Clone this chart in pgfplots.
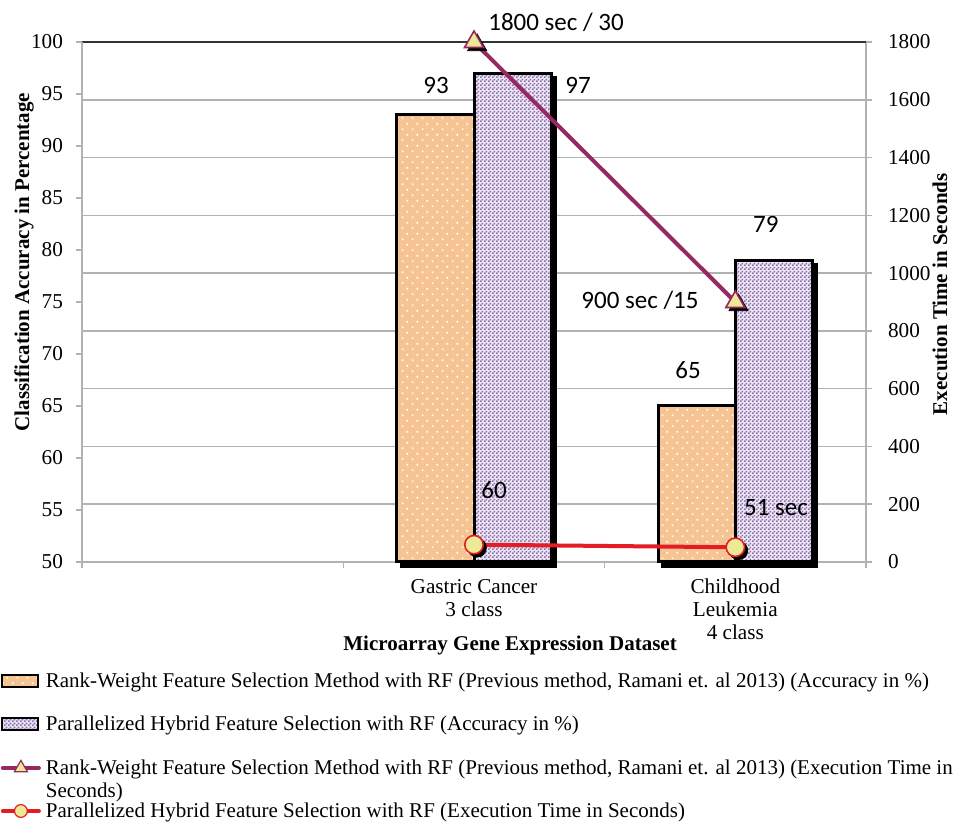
\documentclass[border=0pt]{standalone}
\usepackage{fontspec}
\setmainfont{Liberation Serif}
\newfontfamily\calibri{Carlito}
\usepackage{pgfplots}
\pgfplotsset{compat=1.18}
\usepackage{pgfplotstable}
\usetikzlibrary{patterns.meta,shadows}

\definecolor{peach}{RGB}{246,196,146}
\definecolor{lav}{RGB}{236,230,242}
\definecolor{lavdark}{RGB}{140,110,176}
\definecolor{plum}{RGB}{150,40,100}
\definecolor{redline}{RGB}{228,28,36}
\definecolor{mk}{RGB}{236,234,150}
\definecolor{gridgray}{RGB}{178,178,178}

\tikzdeclarepattern{
  name=wdots, type=uncolored,
  bottom left={(0pt,0pt)}, top right={(5pt,5.7pt)}, tile size={(5pt,5.7pt)},
  code={\fill (1pt,1pt) rectangle (1.9pt,1.9pt);
        \fill (3.5pt,3.85pt) rectangle (4.4pt,4.75pt);}
}
\tikzdeclarepattern{
  name=checker, type=uncolored,
  bottom left={(0pt,0pt)}, top right={(2pt,2pt)}, tile size={(2pt,2pt)},
  code={\fill (0pt,0pt) rectangle (1pt,1pt);
        \fill (1pt,1pt) rectangle (2pt,2pt);}
}

\pgfplotstableread{
pos rw ph
1 93 97
2 65 79
}\acc
\pgfplotstableread{
pos rw ph
1 1800 60
2 900 51
}\etime

\pgfplotsset{
  common/.style={width=392pt, height=260pt, scale only axis, at={(0,0)}, anchor=south west,
    xmin=-0.5, xmax=2.5,
    /pgf/number format/assume math mode=true,
    /pgf/number format/1000 sep={},
    tick label style={font=\fontsize{10.6}{11.5}\selectfont, black},
    tick align=outside, major tick length=3pt,
    major tick style={gridgray, line width=0.8pt},
    axis line style={gridgray, line width=0.8pt},
  }
}

\begin{document}
\begin{tikzpicture}
\path[use as bounding box, fill=white] (-41pt,-130pt) rectangle (442.5pt,281pt);

% Axis A: grid, right axis, bottom axis
\begin{axis}[common,
  ymin=0, ymax=1800,
  axis y line*=right, axis x line*=bottom,
  xtick={-0.5,0.5,1.5,2.5}, xticklabels={},
  extra x ticks={1,2},
  extra x tick labels={{Gastric Cancer\\3 class},{Childhood\\Leukemia\\4 class}},
  extra x tick style={major tick length=0pt},
  xticklabel style={align=center, yshift=-5pt},
  ytick={0,200,...,1600},
  extra y ticks={1800}, extra y tick labels={1800},
  extra y tick style={major grid style={black!80, line width=0.8pt}},
  ymajorgrids, major grid style={gridgray, line width=0.8pt},
  yticklabel style={xshift=4.5pt},
]
\end{axis}

% Axis B: bars, left axis
\begin{axis}[common,
  ymin=0, ymax=50, clip=false,
  axis y line*=left, axis x line=none,
  ytick={0,5,...,50}, yticklabels={50,55,60,65,70,75,80,85,90,95,100},
  yticklabel style={xshift=-3pt},
]
\addplot[ybar, bar width=0.295, bar shift=-0.1475,
  drop shadow={shadow xshift=2.2pt, shadow yshift=-2.2pt, fill=black, opacity=1},
  preaction={fill=peach},
  pattern=wdots, pattern color=white, draw=black, line width=1.5pt]
  table[x=pos, y expr=\thisrow{rw}-50] {\acc};
\addplot[ybar, bar width=0.295, bar shift=0.1475,
  drop shadow={shadow xshift=2.2pt, shadow yshift=-2.2pt, fill=black, opacity=1},
  preaction={fill=lav},
  pattern=checker, pattern color=lavdark, draw=black, line width=1.5pt]
  table[x=pos, y expr=\thisrow{ph}-50] {\acc};
\end{axis}

% Axis C: lines, labels, legend
\begin{axis}[common,
  ymin=0, ymax=1800, hide axis, clip=false,
  legend style={
    at={(axis description cs:0,0)}, anchor=north west, xshift=-40.6pt, yshift=-52.5pt,
    draw=none, fill=none, inner sep=0pt, outer sep=0pt,
    row sep=0pt, column sep=2.5pt,
    font=\fontsize{10.5}{11.5}\selectfont,
    nodes={inner sep=0pt, text depth=, text height=},
    cells={anchor=base west},
  },
]
\addlegendimage{legend image code/.code={
  \draw[fill=peach, postaction={pattern=wdots, pattern color=white}, draw=black, line width=1.1pt]
    (0.5pt,0pt) rectangle (18.5pt,6pt);}}
\addlegendimage{legend image code/.code={
  \draw[fill=lav, postaction={pattern=checker, pattern color=lavdark}, draw=black, line width=1.1pt]
    (0.5pt,0pt) rectangle (18.5pt,6pt);}}
\addlegendimage{legend image code/.code={
  \draw[plum, line width=2pt, line cap=round, mark=triangle*, mark repeat=2, mark phase=2, mark size=3.8pt,
    mark options={fill=mk, draw=plum, line width=0.6pt, line cap=butt}]
    plot coordinates {(1pt,3pt) (10pt,3pt) (19pt,3pt)};}}
\addlegendimage{legend image code/.code={
  \draw[redline, line width=2pt, line cap=round, mark=*, mark repeat=2, mark phase=2, mark size=3.2pt,
    mark options={fill=mk, draw=redline, line width=0.6pt}]
    plot coordinates {(1pt,3pt) (10pt,3pt) (19pt,3pt)};}}

\addplot[only marks, mark=triangle*, mark size=5.5pt, black, xshift=1.6pt, yshift=-1.6pt, forget plot]
  table[x=pos, y=rw] {\etime};
\addplot[plum, line width=2pt, mark=triangle*, mark size=5.5pt,
  mark options={fill=mk, draw=plum, line width=0.8pt}, forget plot]
  table[x=pos, y=rw] {\etime};
\addplot[only marks, mark=*, mark size=4.6pt, black, xshift=1.6pt, yshift=-1.6pt, forget plot]
  table[x=pos, y=ph] {\etime};
\addplot[redline, line width=2pt, mark=*, mark size=4.6pt,
  mark options={fill=mk, draw=redline, line width=0.8pt}, forget plot]
  table[x=pos, y=ph] {\etime};

\legend{
 {\raisebox{0pt}[10pt][10.75pt]{Rank-Weight Feature Selection Method with RF (Previous method, Ramani et. al 2013) (Accuracy in \%)}},
 {\raisebox{0pt}[10.75pt][11pt]{Parallelized Hybrid Feature Selection with RF (Accuracy in \%)}},
 {\raisebox{0pt}[11pt][14pt]{\begin{tabular}[t]{@{}l@{}}Rank-Weight Feature Selection Method with RF (Previous method, Ramani et. al 2013) (Execution Time in\\Seconds)\end{tabular}}},
 {\raisebox{0pt}[7.5pt][3pt]{Parallelized Hybrid Feature Selection with RF (Execution Time in Seconds)}}
}

\begin{scope}[every node/.style={font=\calibri\fontsize{12.5}{14}\selectfont}]
\node at (axis cs:0.855,1651) {93};
\node at (axis cs:1.398,1651) {97};
\node at (axis cs:1.314,1869) {1800 sec / 30};
\node at (axis cs:2.117,1170) {79};
\node at (axis cs:1.635,907) {900 sec /15};
\node at (axis cs:1.819,665) {65};
\node at (axis cs:1.077,249) {60};
\node at (axis cs:2.156,190) {51 sec};
\end{scope}

\node[rotate=90, font=\bfseries\fontsize{10.5}{12}\selectfont]
  at ([xshift=-29pt]axis description cs:0,0.577) {Classification Accuracy in Percentage};
\node[rotate=90, font=\bfseries\fontsize{10.5}{12}\selectfont]
  at ([xshift=37pt]axis description cs:1,0.515) {Execution Time in Seconds};
\node[font=\bfseries\fontsize{10.5}{12}\selectfont]
  at ([yshift=-41.5pt]axis description cs:0.546,0) {Microarray Gene Expression Dataset};
\end{axis}
\end{tikzpicture}
\end{document}
